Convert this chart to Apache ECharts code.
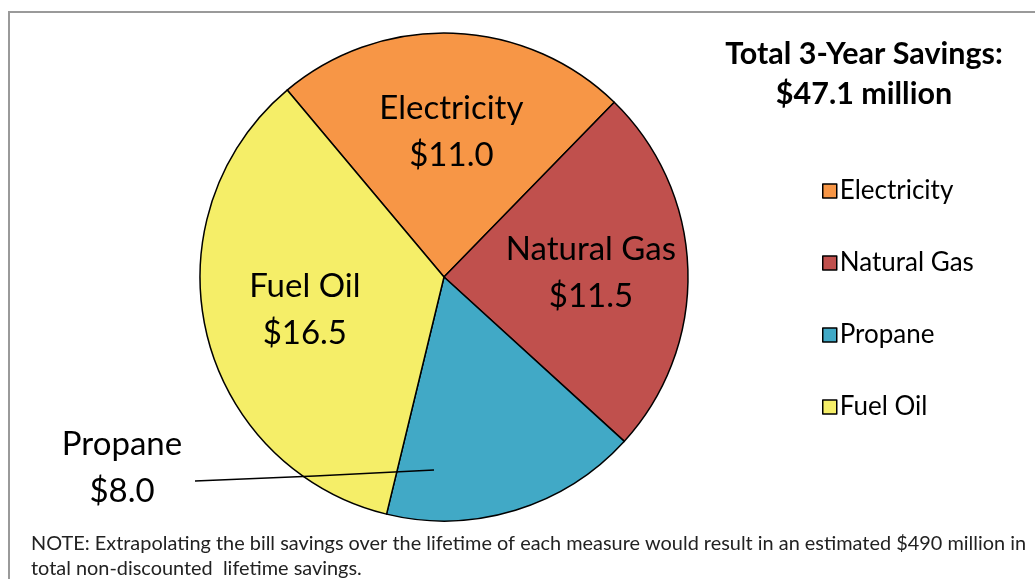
<!DOCTYPE html>
<html>
<head>
<meta charset="utf-8">
<script src="https://cdn.jsdelivr.net/npm/echarts@6/dist/echarts.min.js"></script>
<style>
html,body{margin:0;padding:0;background:#fff;}
#chart{width:1035px;height:579px;}
</style>
</head>
<body>
<div id="chart"></div>
<script>
const categories = ['Electricity', 'Natural Gas', 'Propane', 'Fuel Oil'];
const savings = [11.0, 11.5, 8.0, 16.5];
const sliceColors = ['#F79646', '#C0504D', '#41A9C6', '#F5EE68'];
const titleText = 'Total 3-Year Savings:\n$47.1 million';
const noteText = 'NOTE: Extrapolating the bill savings over the lifetime of each measure would result in an estimated $490 million in\ntotal non-discounted  lifetime savings.';

const FONT = 'Lato, "Open Sans", sans-serif';
const CX = 444, CY = 277, R = 244;

const chart = echarts.init(document.getElementById('chart'), null, {renderer: 'canvas'});

const sliceData = categories.map((name, i) => ({name: name, value: savings[i], itemStyle: {color: sliceColors[i]}}));

const labelData = categories.map((name, i) => {
  const item = {name: name, value: savings[i]};
  if (name === 'Propane') {
    item.label = {position: 'outside'};
    item.labelLine = {show: true, lineStyle: {color: '#000', width: 1.5}};
  }
  return item;
});

const common = {
  type: 'pie',
  center: [CX, CY],
  radius: [0, R],
  startAngle: 130,
  clockwise: true,
  avoidLabelOverlap: false,
  emphasis: {disabled: true}
};

chart.setOption({
  animation: false,
  backgroundColor: '#fff',
  title: [
    {
      text: titleText,
      left: 859, top: 29, textAlign: 'center',
      textStyle: {fontFamily: FONT, fontWeight: 'bold', fontSize: 30.5, lineHeight: 40, color: '#000'}
    },
    {
      text: noteText,
      left: 26, top: 526,
      textStyle: {fontFamily: FONT, fontWeight: 'normal', fontSize: 19.9, lineHeight: 25, color: '#222'}
    }
  ],
  legend: {
    orient: 'vertical',
    left: 817, top: 171,
    itemWidth: 14, itemHeight: 14,
    itemGap: 42,
    icon: 'rect',
    data: categories,
    itemStyle: {borderColor: '#000', borderWidth: 1.5},
    textStyle: {fontFamily: FONT, fontSize: 26, lineHeight: 30, color: '#000', padding: [0,0,0,-2]}
  },
  graphic: [
    {type: 'rect', shape: {x: 9, y: 12, width: 1100, height: 700}, style: {fill: 'none', stroke: '#9a9a9a', lineWidth: 2}, z: -1}
  ],
  series: [
    Object.assign({}, common, {
      name: 'slices',
      z: 2,
      data: sliceData,
      itemStyle: {borderColor: '#000', borderWidth: 1.5},
      label: {show: false},
      labelLine: {show: false}
    }),
    Object.assign({}, common, {
      name: 'labels',
      z: 5,
      silent: true,
      data: labelData,
      itemStyle: {color: 'rgba(0,0,0,0)', borderWidth: 0},
      label: {
        show: true,
        position: 'inside',
        fontFamily: FONT,
        fontSize: 33,
        lineHeight: 47,
        color: '#000',
        formatter: p => p.name + '\n$' + p.value.toFixed(1)
      },
      labelLine: {show: false},
      labelLayout: function (params) {
        const idx = params.dataIndex;
        const rect = params.labelRect;
        if (categories[idx] === 'Propane') {
          return {
            x: 122, y: 468, align: 'center', verticalAlign: 'middle',
            labelLinePoints: [[195, 481], [315, 476], [434, 470]]
          };
        }
        const lx = rect.x + rect.width / 2, ly = rect.y + rect.height / 2;
        const f = 0.16;
        return {dx: (lx - CX) * f + 2, dy: (ly - CY) * f};
      }
    })
  ]
});
</script>
</body>
</html>
